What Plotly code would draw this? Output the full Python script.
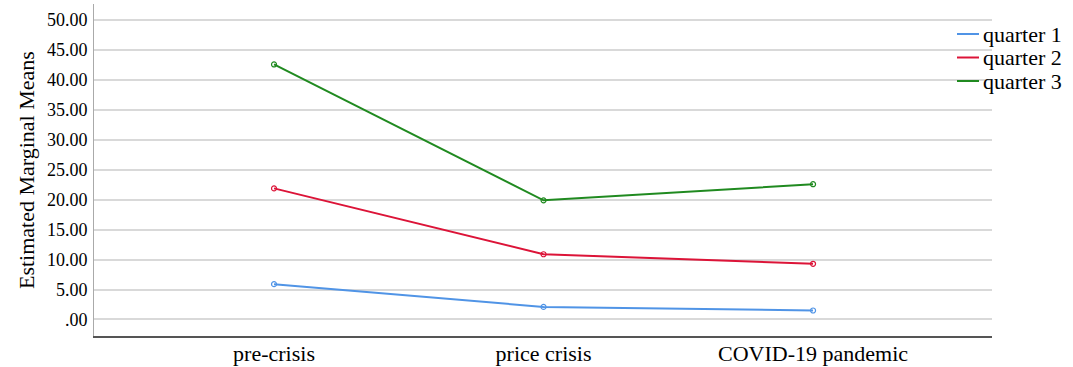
import plotly.graph_objects as go

categories = ["pre-crisis", "price crisis", "COVID-19 pandemic"]
series_names = ["quarter 1", "quarter 2", "quarter 3"]
quarter1 = [5.9, 2.1, 1.5]
quarter2 = [21.9, 10.9, 9.3]
quarter3 = [42.6, 19.9, 22.6]
y_tick_values = [0, 5, 10, 15, 20, 25, 30, 35, 40, 45, 50]
y_tick_labels = [".00", "5.00", "10.00", "15.00", "20.00", "25.00",
                 "30.00", "35.00", "40.00", "45.00", "50.00"]

colors = ["#5094e6", "#dc1438", "#208a20"]
serif = "Liberation Serif, Times New Roman, serif"

W, H = 1073, 367
L, R, T, B = 94, 81, 4, 31
PW, PH = W - L - R, H - T - B


def px_x(x):
    return (x - L) / PW


def px_y(y):
    return 1 - (y - T) / PH


fig = go.Figure()
for name, vals, col in zip(series_names, [quarter1, quarter2, quarter3], colors):
    fig.add_trace(go.Scatter(
        x=categories, y=vals, name=name, mode="lines+markers",
        line=dict(color=col, width=2),
        marker=dict(symbol="circle-open", size=5, color=col, line=dict(width=1.2, color=col)),
        showlegend=False,
    ))

# manual legend (line sample + text), placed like the reference
shapes = []
annotations = []
legend_y0, legend_dy = 34, 23.5
for i, (name, col) in enumerate(zip(series_names, colors)):
    yy = legend_y0 + i * legend_dy
    shapes.append(dict(type="line", xref="paper", yref="paper",
                       x0=px_x(957), x1=px_x(979), y0=px_y(yy), y1=px_y(yy),
                       line=dict(color=col, width=2)))
    annotations.append(dict(text=name, xref="paper", yref="paper",
                            x=px_x(981), y=px_y(yy), xanchor="left", yanchor="middle",
                            showarrow=False,
                            font=dict(family=serif, size=22, color="#000000")))

annotations.append(dict(
    text="Estimated Marginal Means", xref="paper", yref="paper",
    x=px_x(26), y=0.5, xanchor="center", yanchor="middle",
    textangle=-90, showarrow=False,
    font=dict(family=serif, size=22, color="#000000"),
))

fig.update_layout(
    width=W, height=H,
    margin=dict(l=L, r=R, t=T, b=B, autoexpand=False),
    paper_bgcolor="white", plot_bgcolor="white",
    font=dict(family=serif, color="#000000"),
    showlegend=False,
    xaxis=dict(
        type="category", range=[-0.668, 2.664], automargin=False,
        showgrid=False, zeroline=False,
        showline=True, linecolor="#555555", linewidth=1.5,
        ticks="", ticklabelstandoff=-3,
        tickfont=dict(family=serif, size=22, color="#000000"),
    ),
    yaxis=dict(
        range=[-2.76, 52.7], automargin=False,
        tickvals=y_tick_values, ticktext=y_tick_labels,
        showgrid=True, gridcolor="#d9d9d9", gridwidth=1.5,
        zeroline=False,
        showline=True, linecolor="#aaaaaa", linewidth=1,
        ticks="", ticklabelstandoff=2,
        tickfont=dict(family=serif, size=18, color="#000000"),
    ),
    shapes=shapes,
    annotations=annotations,
)

fig.write_html(
    "out.html",
    config={"displayModeBar": False},
    post_script="document.body.style.margin='0';document.body.style.overflow='hidden';",
)
